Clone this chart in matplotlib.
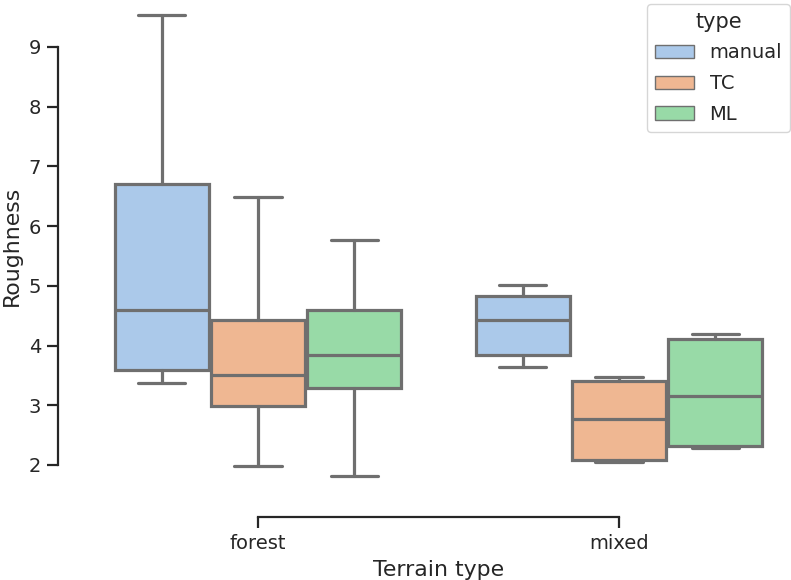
import matplotlib
matplotlib.use("Agg")
import matplotlib.pyplot as plt
from matplotlib.patches import Patch
import seaborn as sns

sns.set_style("ticks")
plt.rcParams['font.family'] = ['DejaVu Sans']

terrains = ["forest", "mixed"]
types = ["manual", "TC", "ML"]

# box stats per terrain (rows) and type (cols)
whislo = [[3.37, 1.98, 1.82], [3.64, 2.05, 2.28]]
q1 = [[3.59, 2.99, 3.29], [3.84, 2.08, 2.32]]
med = [[4.60, 3.51, 3.84], [4.43, 2.77, 3.16]]
q3 = [[6.71, 4.43, 4.60], [4.83, 3.40, 4.11]]
whishi = [[9.54, 6.49, 5.77], [5.01, 3.48, 4.19]]

yticks = [2, 3, 4, 5, 6, 7, 8, 9]

pal = [sns.desaturate(c, 0.75) for c in sns.color_palette("pastel", 3)]
gray = "#6f6f6f"
txt = "#262626"

fig = plt.figure(figsize=(7.91, 5.8), dpi=100)
ax = fig.add_axes([0.098, 0.1397, 0.9128, 0.874])

width = 0.8 / len(types)
for i, t in enumerate(terrains):
    for j, h in enumerate(types):
        st = dict(whislo=whislo[i][j], q1=q1[i][j], med=med[i][j],
                  q3=q3[i][j], whishi=whishi[i][j], fliers=[])
        pos = i + (j - 1) * width
        ax.bxp([st], positions=[pos], widths=[width * 0.98], patch_artist=True,
               showfliers=False,
               boxprops=dict(facecolor=pal[j], edgecolor=gray, linewidth=2.3),
               medianprops=dict(color=gray, linewidth=2.3),
               whiskerprops=dict(color=gray, linewidth=2.3),
               capprops=dict(color=gray, linewidth=2.3))

ax.set_xlim(-0.5, 1.5)
ax.set_ylim(1.43, 9.92)
ax.set_xticks(range(len(terrains)))
ax.set_xticklabels(terrains)
ax.set_yticks(yticks)

for s in ["top", "right"]:
    ax.spines[s].set_visible(False)
ax.spines["left"].set_position(("outward", 14))
ax.spines["bottom"].set_position(("outward", 13))
ax.spines["left"].set_bounds(yticks[0], yticks[-1])
ax.spines["bottom"].set_bounds(0, len(terrains) - 1)
for s in ["left", "bottom"]:
    ax.spines[s].set_linewidth(1.6)
    ax.spines[s].set_color(txt)

ax.tick_params(axis="both", length=7.7, width=1.6, color=txt,
               labelsize=14, labelcolor=txt, pad=4.5)

ax.set_xlabel("Terrain type", fontsize=15.8, color=txt, labelpad=5)
ax.set_ylabel("Roughness", fontsize=15.8, color=txt, labelpad=5)

handles = [Patch(facecolor=pal[j], edgecolor=gray, linewidth=1.0, label=h)
           for j, h in enumerate(types)]
leg = ax.legend(handles=handles, title="type", loc="upper right",
                bbox_to_anchor=(790 / 791, 1 - 4 / 580),
                bbox_transform=fig.transFigure, borderaxespad=0,
                fontsize=14, title_fontsize=15, labelspacing=0.6)
for tx in leg.get_texts():
    tx.set_color(txt)
leg.get_title().set_color(txt)

fig.savefig("out.png", dpi=100)
